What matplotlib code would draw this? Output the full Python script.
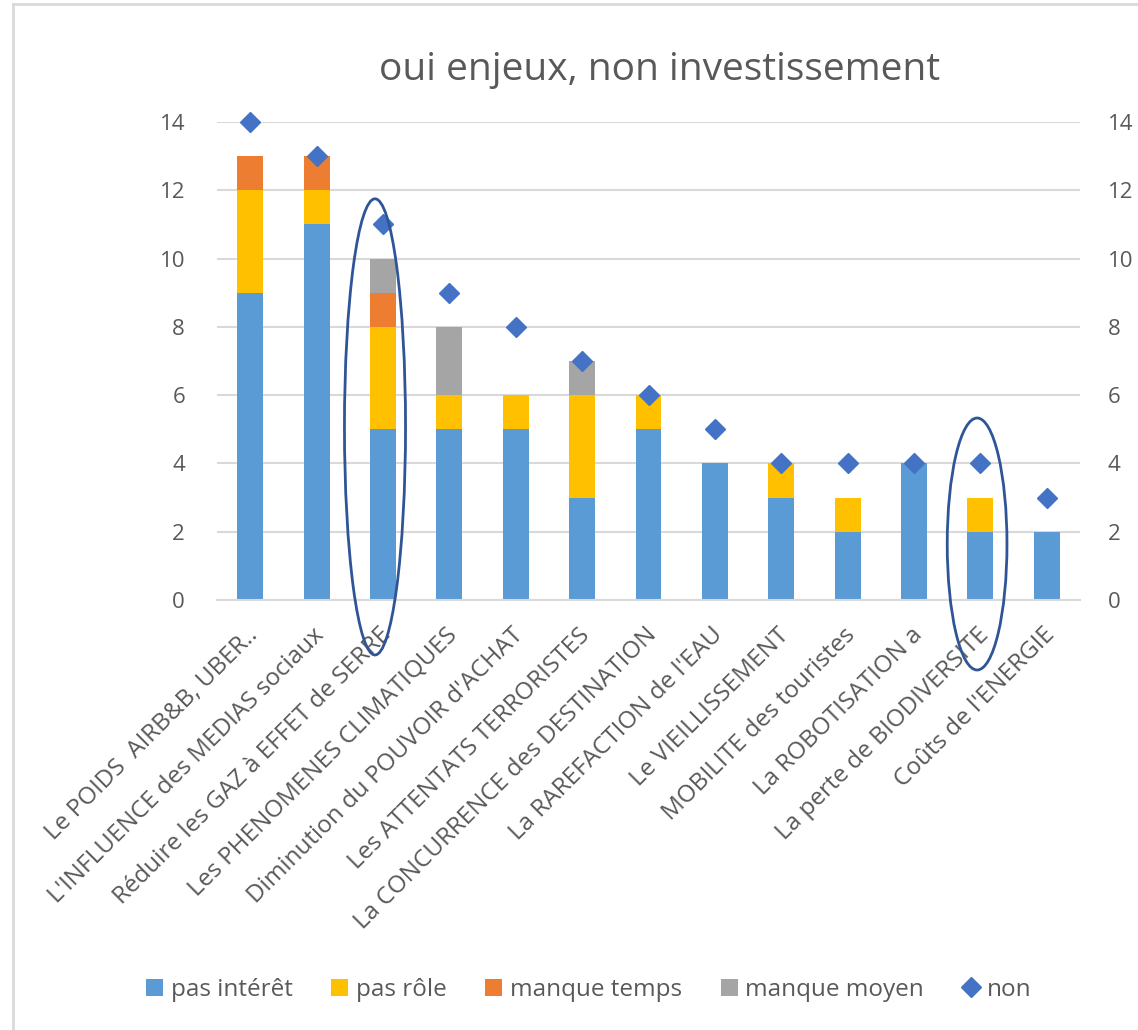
import matplotlib.pyplot as plt
from matplotlib.patches import Ellipse
from matplotlib.lines import Line2D
from matplotlib.transforms import ScaledTranslation
import numpy as np

plt.rcParams['font.family'] = ['Open Sans', 'DejaVu Sans']

# Donnees
categories = ["Le POIDS  AIRB&B, UBER..", "L'INFLUENCE des MEDIAS sociaux",
              "Réduire les GAZ à EFFET de SERRE", "Les PHENOMENES CLIMATIQUES",
              "Diminution du POUVOIR d'ACHAT", "Les ATTENTATS TERRORISTES",
              "La CONCURRENCE des DESTINATION", "La RAREFACTION de l'EAU",
              "Le VIEILLISSEMENT", "MOBILITE des touristes", "La ROBOTISATION a",
              "La perte de BIODIVERSITE", "Coûts de l'ENERGIE"]
pas_interet = [9, 11, 5, 5, 5, 3, 5, 4, 3, 2, 4, 2, 2]
pas_role = [3, 1, 3, 1, 1, 3, 1, 0, 1, 1, 0, 1, 0]
manque_temps = [1, 1, 1, 0, 0, 0, 0, 0, 0, 0, 0, 0, 0]
manque_moyen = [0, 0, 1, 2, 0, 1, 0, 0, 0, 0, 0, 0, 0]
non = [14, 13, 11, 9, 8, 7, 6, 5, 4, 4, 4, 4, 3]
ticks = [0, 2, 4, 6, 8, 10, 12, 14]

gris = "#595959"
fig = plt.figure(figsize=(11.38, 10.30), dpi=100)
ax = fig.add_axes([217 / 1138, 1 - 600 / 1030, 863 / 1138, 478 / 1030])

x = np.arange(len(categories))
w = 0.39
bas = np.zeros(len(categories))
series = [(pas_interet, "#5B9BD5", "pas intérêt"),
          (pas_role, "#FFC000", "pas rôle"),
          (manque_temps, "#ED7D31", "manque temps"),
          (manque_moyen, "#A5A5A5", "manque moyen")]
barres = []
for vals, c, lab in series:
    b = ax.bar(x, vals, w, bottom=bas, color=c, label=lab, zorder=2)
    barres.append(b)
    bas = bas + np.array(vals)

pts, = ax.plot(x, non, linestyle="none", marker="D", ms=10, color="#4472C4",
               label="non", zorder=3, clip_on=False)

ax.set_xlim(-0.5, len(categories) - 0.5)
ax.set_ylim(0, 14)
ax.set_yticks(ticks)
ax.yaxis.grid(True, color="#D9D9D9", lw=1.5, zorder=0)
for s in ["top", "right", "left"]:
    ax.spines[s].set_visible(False)
ax.spines["bottom"].set_color("#D9D9D9")
ax.spines["bottom"].set_linewidth(1.5)
ax.tick_params(axis="y", length=0, pad=23, labelsize=16, labelcolor=gris)
ax.tick_params(axis="x", length=0, pad=8)
ax.set_xticks(x)
ax.set_xticklabels(categories, rotation=45, ha="right", va="top",
                   rotation_mode="anchor", fontsize=17.5, color=gris)
decal = ScaledTranslation(-4 / 100, -12 / 100, fig.dpi_scale_trans)
for t in ax.get_xticklabels():
    t.set_transform(t.get_transform() + decal)

ax2 = ax.twinx()
ax2.set_ylim(0, 14)
ax2.set_yticks(ticks)
for s in ax2.spines.values():
    s.set_visible(False)
ax2.tick_params(axis="y", length=0, pad=20, labelsize=16, labelcolor=gris)

# ellipses dessinees a la main
ax.add_patch(Ellipse((1.88, 5.07), 0.92, 13.36, fill=False, ec="#2F5597",
                     lw=2, clip_on=False, zorder=4))
ax.add_patch(Ellipse((10.95, 1.64), 0.90, 7.38, fill=False, ec="#2F5597",
                     lw=2, clip_on=False, zorder=4))

fig.text(660 / 1138, 1 - 70 / 1030, "oui enjeux, non investissement",
         ha="center", va="center", fontsize=28, color=gris)

fig.legend(barres + [pts], [s[2] for s in series] + ["non"], loc="center",
           bbox_to_anchor=(589 / 1138, 1 - 990 / 1030),
           ncol=5, frameon=False, fontsize=17.5, labelcolor=gris,
           handlelength=0.7, handletextpad=0.3, columnspacing=1.6)

# cadre gris
fig.add_artist(Line2D([13 / 1138, 13 / 1138], [0, 1 - 4 / 1030], color="#D9D9D9", lw=2))
fig.add_artist(Line2D([13 / 1138, 1], [1 - 4 / 1030, 1 - 4 / 1030], color="#D9D9D9", lw=2))

fig.savefig("out.png", dpi=100)
